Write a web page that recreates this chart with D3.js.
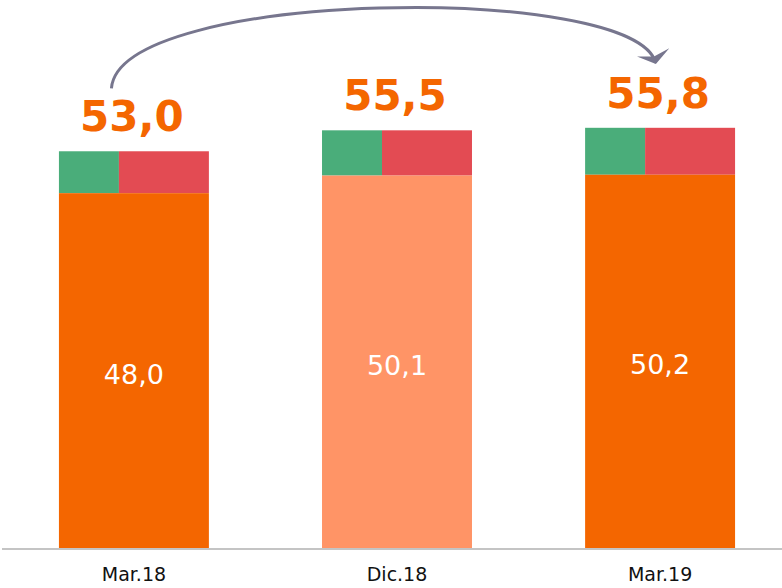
<!DOCTYPE html>
<html>
<head>
<meta charset="utf-8">
<script src="https://cdn.jsdelivr.net/npm/d3@7"></script>
<style>
  html, body { margin: 0; padding: 0; background: #ffffff; }
  svg { display: block; }
</style>
</head>
<body>
<svg id="chart" width="782" height="588"></svg>
<script>
// ---- data ----
const categories = ["Mar.18", "Dic.18", "Mar.19"];
const baseValues = [48.0, 50.1, 50.2];
const totalValues = [53.0, 55.5, 55.8];
const baseLabels = ["48,0", "50,1", "50,2"];
const totalLabels = ["53,0", "55,5", "55,8"];
const highlight = [false, true, false];       // lighter base bar
const topSplitNames = ["green", "red"];
const topSplitShares = [0.4, 0.6];            // horizontal split of the top segment
const yDomain = [5.66, 71.05];                // truncated value axis (not shown)

// ---- styles ----
const W = 782, H = 588;
const baseY = 548;
const colors = {
  base: "#F46600",
  baseLight: "#FF9466",
  green: "#4AAD7A",
  red: "#E34B53",
  total: "#F46600",
  arrow: "#77768E",
  axis: "#C4C4C4"
};

const svg = d3.select("#chart");

const x = d3.scaleBand()
  .domain(categories)
  .range([0, 794])
  .paddingInner(0.43)
  .paddingOuter(0.224);

const y = d3.scaleLinear()
  .domain(yDomain)
  .range([baseY, 0]);

const data = categories.map((c, i) => ({
  cat: c, base: baseValues[i], total: totalValues[i],
  baseLabel: baseLabels[i], totalLabel: totalLabels[i], light: highlight[i]
}));

const splitScale = d3.scaleLinear().domain([0, 1]).range([0, x.bandwidth()]);
const cum = d3.cumsum([0, ...topSplitShares]);
const g = svg.append("g");

data.forEach(d => {
  topSplitNames.forEach((name, k) => {
    g.append("rect")
      .attr("x", x(d.cat) + splitScale(cum[k]))
      .attr("y", y(d.total))
      .attr("width", splitScale(topSplitShares[k]))
      .attr("height", y(d.base) - y(d.total))
      .attr("fill", colors[name]);
  });
});

g.selectAll("rect.base")
  .data(data)
  .join("rect")
  .attr("class", "base")
  .attr("x", d => x(d.cat))
  .attr("y", d => y(d.base))
  .attr("width", x.bandwidth())
  .attr("height", d => y(yDomain[0]) - y(d.base))
  .attr("fill", d => d.light ? colors.baseLight : colors.base);

g.selectAll("text.baseLabel")
  .data(data)
  .join("text")
  .attr("class", "baseLabel")
  .attr("x", d => x(d.cat) + x.bandwidth() / 2)
  .attr("y", d => (y(d.base) + y(yDomain[0])) / 2 + 13)
  .attr("text-anchor", "middle")
  .attr("font-family", "'DejaVu Sans', sans-serif")
  .attr("font-size", 27)
  .attr("fill", "#ffffff")
  .text(d => d.baseLabel);

g.selectAll("text.totalLabel")
  .data(data)
  .join("text")
  .attr("class", "totalLabel")
  .attr("x", d => x(d.cat) + x.bandwidth() / 2 - 2)
  .attr("y", d => y(d.total) - 20)
  .attr("text-anchor", "middle")
  .attr("font-family", "'DejaVu Sans', sans-serif")
  .attr("font-weight", "bold")
  .attr("font-size", 42)
  .attr("fill", colors.total)
  .text(d => d.totalLabel);

const xAxis = d3.axisBottom(x).tickSize(0).tickPadding(0);
const axisG = svg.append("g")
  .attr("transform", `translate(0,${baseY})`)
  .call(xAxis);
axisG.select(".domain").remove();
axisG.append("line")
  .attr("x1", 2).attr("x2", W)
  .attr("y1", 1).attr("y2", 1)
  .attr("stroke", colors.axis)
  .attr("stroke-width", 2);
axisG.selectAll(".tick text")
  .attr("dy", 0)
  .attr("y", 33)
  .attr("font-family", "'DejaVu Sans', sans-serif")
  .attr("font-size", 19)
  .attr("fill", "#111111");

// arrow from first to last total
const first = data[0], last = data[data.length - 1];
const sx = x(first.cat) + x.bandwidth() * 0.35;
const sy = y(first.total) - 63;
const ex = x(last.cat) + x.bandwidth() * 0.47;
const ey = y(last.total) - 65;

const defs = svg.append("defs");
defs.append("marker")
  .attr("id", "ah")
  .attr("viewBox", "0 0 10 28")
  .attr("refX", 9).attr("refY", 14)
  .attr("markerWidth", 4).attr("markerHeight", 11.2)
  .attr("orient", "auto")
  .attr("markerUnits", "strokeWidth")
  .append("path")
  .attr("d", "M0,0 L10,14 L0,28 L3.5,14 Z")
  .attr("fill", colors.arrow);

const p = d3.path();
p.moveTo(sx, sy);
p.bezierCurveTo(sx + 8, sy - 100, ex - 20, ey - 80, ex, ey);
svg.append("path")
  .attr("d", p.toString())
  .attr("fill", "none")
  .attr("stroke", colors.arrow)
  .attr("stroke-width", 3)
  .attr("marker-end", "url(#ah)");
</script>
</body>
</html>
